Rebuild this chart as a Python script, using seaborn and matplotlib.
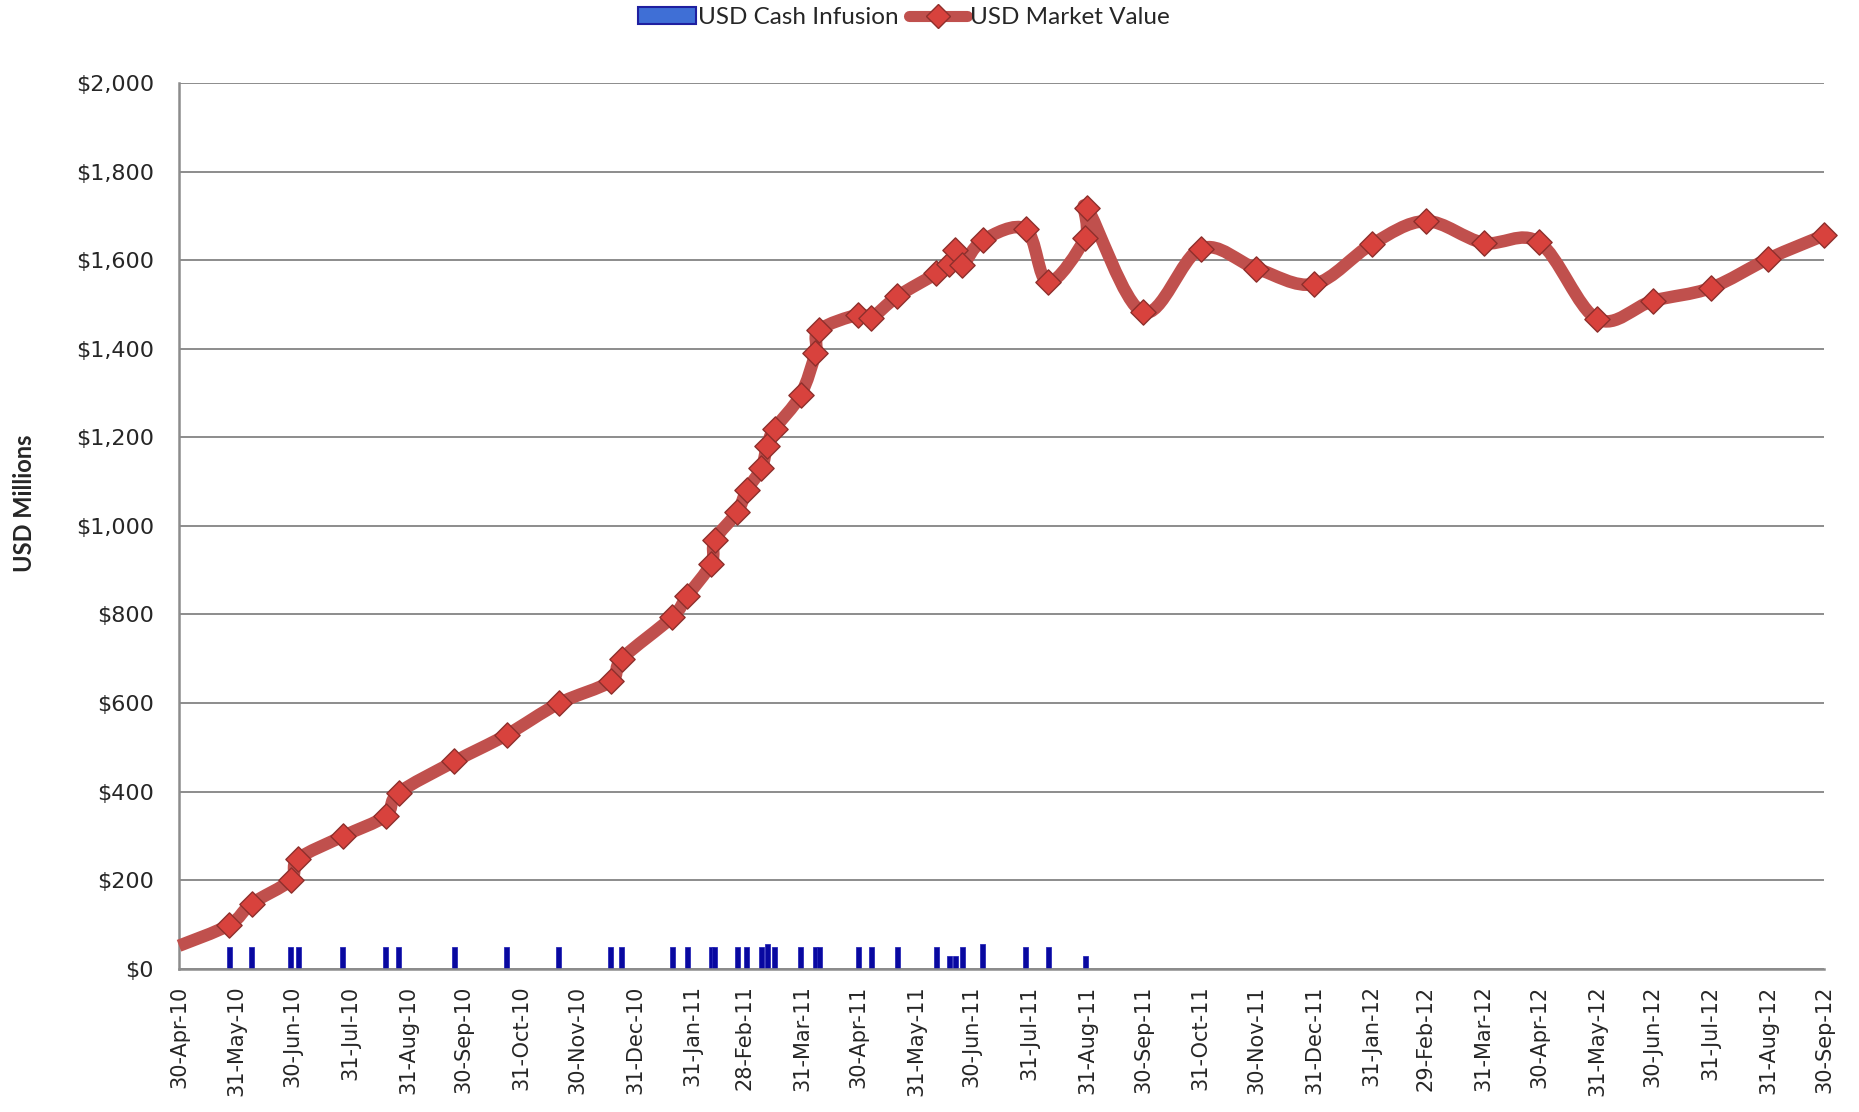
import numpy as np
import pandas as pd
import matplotlib
matplotlib.use("Agg")
import matplotlib.pyplot as plt
import matplotlib.dates as mdates
from matplotlib.path import Path
from matplotlib.patches import PathPatch, Patch
from matplotlib.lines import Line2D
from matplotlib.ticker import FuncFormatter
import seaborn as sns

# market value series (USD millions); first point is the start of the line, no marker
value_dates = [
    "2010-04-30", "2010-05-27", "2010-06-08", "2010-06-29", "2010-07-03", "2010-07-27",
    "2010-08-19", "2010-08-26", "2010-09-25", "2010-10-23", "2010-11-20", "2010-12-18",
    "2010-12-24", "2011-01-20", "2011-01-28", "2011-02-10", "2011-02-12", "2011-02-24",
    "2011-03-01", "2011-03-09", "2011-03-12", "2011-03-16", "2011-03-30", "2011-04-07",
    "2011-04-09", "2011-04-30", "2011-05-07", "2011-05-21", "2011-06-11", "2011-06-18",
    "2011-06-21", "2011-06-25", "2011-07-06", "2011-07-29", "2011-08-10", "2011-08-30",
    "2011-08-31", "2011-09-30", "2011-10-31", "2011-11-30", "2011-12-31", "2012-01-31",
    "2012-02-29", "2012-03-31", "2012-04-30", "2012-05-31", "2012-06-30", "2012-07-31",
    "2012-08-31", "2012-09-30",
]
market_values = [
    52, 99, 147, 200, 248, 299,
    345, 397, 468, 528, 599, 649,
    700, 794, 841, 915, 969, 1031,
    1080, 1130, 1181, 1219, 1295, 1390,
    1442, 1477, 1470, 1518, 1570, 1592,
    1622, 1590, 1645, 1670, 1550, 1650,
    1717, 1482, 1626, 1581, 1546, 1636,
    1688, 1639, 1640, 1467, 1508, 1537,
    1603, 1656,
]

# cash infusions (USD millions)
infusion_dates = [
    "2010-05-27", "2010-06-08", "2010-06-29", "2010-07-03", "2010-07-27", "2010-08-19",
    "2010-08-26", "2010-09-25", "2010-10-23", "2010-11-20", "2010-12-18", "2010-12-24",
    "2011-01-20", "2011-01-28", "2011-02-10", "2011-02-12", "2011-02-24", "2011-03-01",
    "2011-03-09", "2011-03-12", "2011-03-16", "2011-03-30", "2011-04-07", "2011-04-09",
    "2011-04-30", "2011-05-07", "2011-05-21", "2011-06-11", "2011-06-18", "2011-06-21",
    "2011-06-25", "2011-07-06", "2011-07-29", "2011-08-10", "2011-08-30",
]
infusion_amounts = [
    50, 50, 50, 50, 50, 50,
    50, 50, 50, 50, 50, 50,
    50, 50, 50, 50, 50, 50,
    50, 55, 50, 50, 50, 50,
    50, 50, 50, 50, 28, 28,
    50, 55, 50, 50, 28,
]

legend_labels = ["USD Cash Infusion", "USD Market Value"]
y_label = "USD Millions"

LINE_RED = "#C0504D"
MARKER_RED = "#D8423D"
BAR_BLUE = "#0808A0"
GRID_GREY = "#8C8C8C"

sns.set_style("white")
plt.rcParams["font.family"] = ["DejaVu Sans"]

mv = pd.DataFrame({"date": pd.to_datetime(value_dates), "value": market_values})
cash = pd.DataFrame({"date": pd.to_datetime(infusion_dates), "amount": infusion_amounts})

fig = plt.figure(figsize=(18.59, 11.12), dpi=100)
ax = fig.add_axes([0.0963, 0.1288, 0.8849, 0.7966])

# cash infusion bars
ax.bar(cash["date"], cash["amount"], width=2.7, color=BAR_BLUE, edgecolor="#2A2AB8",
       linewidth=0.6, zorder=2)

# smoothed market value line (Catmull-Rom style bezier through the points)
x = mdates.date2num(mv["date"])
y = mv["value"].to_numpy(dtype=float)
verts = [(x[0], y[0])]
codes = [Path.MOVETO]
n = len(x)
for i in range(n - 1):
    i0 = max(i - 1, 0)
    i3 = min(i + 2, n - 1)
    c1 = (x[i] + (x[i + 1] - x[i0]) / 6, y[i] + (y[i + 1] - y[i0]) / 6)
    c2 = (x[i + 1] - (x[i3] - x[i]) / 6, y[i + 1] - (y[i3] - y[i]) / 6)
    verts += [c1, c2, (x[i + 1], y[i + 1])]
    codes += [Path.CURVE4] * 3
ax.add_patch(PathPatch(Path(verts, codes), fill=False, edgecolor=LINE_RED, lw=9,
                       capstyle="butt", joinstyle="round", zorder=3, clip_on=False))

# diamond markers
sns.scatterplot(data=mv.iloc[1:], x="date", y="value", marker="D", s=165,
                color=MARKER_RED, edgecolor="#8E2F2C", linewidth=1.0, zorder=4,
                clip_on=False, ax=ax)

# axes
ax.set_xlim(pd.Timestamp("2010-04-30"), pd.Timestamp("2012-09-30"))
ax.set_ylim(0, 2000)
ax.set_yticks(np.arange(0, 2001, 200))
ax.yaxis.set_major_formatter(FuncFormatter(lambda v, p: f"${v:,.0f}"))
ax.xaxis.set_major_locator(mdates.MonthLocator(bymonthday=-1))
ax.xaxis.set_major_formatter(mdates.DateFormatter("%d-%b-%y"))
ax.set_xlabel("")
ax.set_ylabel(y_label, fontsize=17, fontweight="bold", family="Lato")
ax.yaxis.set_label_coords(-0.087, 0.525)

ax.yaxis.grid(True, color=GRID_GREY, lw=1.4, zorder=0)
ax.xaxis.grid(False)
for side in ["top", "right"]:
    ax.spines[side].set_visible(False)
for side in ["left", "bottom"]:
    ax.spines[side].set_color(GRID_GREY)
    ax.spines[side].set_linewidth(1.8)
ax.tick_params(axis="x", direction="out", length=9, width=1.4, color=GRID_GREY,
               labelrotation=90, labelsize=15, pad=3)
ax.tick_params(axis="y", direction="out", length=10, width=1.4, color=GRID_GREY,
               labelsize=16, pad=8)
ax.set_axisbelow(True)

# legend
handles = [
    Patch(facecolor="#3F6FD6", edgecolor="#1F1FA0", linewidth=1.5),
    Line2D([0], [0], color=LINE_RED, lw=8, marker="D", markersize=12,
           markerfacecolor=MARKER_RED, markeredgecolor="#8E2F2C"),
]
fig.legend(handles, legend_labels, loc="center", bbox_to_anchor=(0.486, 0.984), ncol=2,
           frameon=False, handlelength=2.4, handletextpad=0.1, columnspacing=0.4,
           prop={"family": "Lato", "size": 17.5})

fig.savefig("out.png", dpi=100)
